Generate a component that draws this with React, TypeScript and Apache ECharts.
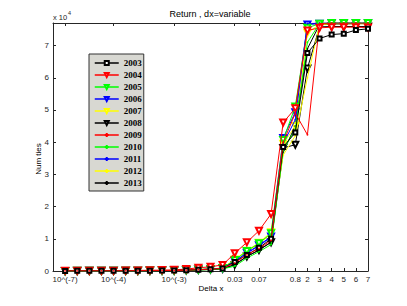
import React, { useEffect, useRef } from "react";
import * as echarts from "echarts";

const years = ["2003", "2004", "2005", "2006", "2007", "2008", "2009", "2010", "2011", "2012", "2013"];
const colors = ["#000000", "#ff0000", "#00ff00", "#0000ff", "#ffff00", "#000000", "#ff0000", "#00ff00", "#0000ff", "#ffff00", "#000000"];

// x positions (category index along the Delta x axis)
const xPositions = [1, 2, 3, 4, 5, 6, 7, 8, 9, 10, 11, 12, 13, 14, 15, 16, 17, 18, 19, 20, 21, 22, 23, 24, 25, 26];

const s2003 = [30, 40, 50, 60, 70, 80, 90, 110, 130, 150, 250, 400, 550, 800, 2800, 5000, 7200, 10000, 38500, 43000, 67700, 72200, 73400, 73700, 74800, 75200];
const s2004 = [40, 50, 60, 80, 100, 130, 170, 220, 280, 350, 600, 1000, 1300, 1900, 5500, 8900, 12500, 17700, 46100, 50500, 74700, 75500, 75700, 75700, 75700, 75600];
const s2005 = [30, 40, 50, 60, 70, 80, 100, 120, 140, 170, 280, 450, 600, 900, 3400, 6200, 8600, 11700, 40700, 51100, 75500, 76800, 77000, 77000, 77000, 77000];
const s2006 = [30, 40, 50, 60, 70, 80, 100, 120, 140, 160, 270, 430, 580, 850, 3000, 5700, 8000, 10700, 41300, 49300, 76500, 76800, 77000, 77000, 77000, 77000];
const s2007 = [30, 40, 50, 60, 70, 80, 100, 120, 140, 170, 290, 460, 620, 950, 3600, 6300, 8800, 12000, 39500, 45000, 74000, 76500, 76800, 76800, 76800, 76800];
const s2008 = [20, 30, 40, 50, 60, 70, 80, 100, 120, 130, 220, 350, 480, 700, 1900, 4500, 6500, 8900, 38200, 39200, 62900, 75800, 75900, 75900, 75900, 75900];
const s2009 = [30, 40, 50, 60, 70, 80, 100, 120, 140, 160, 260, 420, 560, 820, 2500, 5000, 7000, 9500, 40000, 49000, 42300, 76800, 77000, 77000, 77000, 77000];
const s2010 = [20, 30, 40, 50, 60, 70, 80, 100, 110, 120, 200, 320, 450, 650, 1500, 4000, 6000, 8200, 37500, 44000, 71000, 76800, 77000, 77000, 77000, 77000];
const s2011 = [30, 40, 50, 60, 70, 80, 100, 120, 140, 160, 270, 430, 580, 850, 3000, 5500, 7800, 10500, 39500, 47000, 76800, 77000, 77000, 77000, 77000, 77000];
const s2012 = [30, 40, 50, 60, 70, 80, 100, 120, 140, 170, 280, 450, 600, 920, 3500, 6000, 8500, 11500, 36000, 42000, 60000, 76500, 76800, 76800, 76800, 76800];
const s2013 = [20, 30, 40, 50, 60, 70, 80, 100, 120, 130, 220, 350, 480, 700, 2000, 4500, 6500, 9000, 37000, 45000, 69000, 76500, 76700, 76700, 76800, 76800];

const seriesValues = [s2003, s2004, s2005, s2006, s2007, s2008, s2009, s2010, s2011, s2012, s2013];

const xTickPositions = [1, 5, 10, 15, 17, 20, 21, 22, 23, 24, 25, 26];
const xTickLabels = ["10^(-7)", "10^(-4)", "10^(-3)", "0.03", "0.07", "0.8", "2", "3", "4", "5", "6", "7"];
const yTicks = [0, 10000, 20000, 30000, 40000, 50000, 60000, 70000];

const AX = "#262626";
const SANS = "Liberation Sans, Arial, sans-serif";
const LEGEND_BG = "#d8d8d2";

function buildSeries() {
  return years.map((y, i) => {
    const c = colors[i];
    const data = seriesValues[i].map((v, k) => [xPositions[k], v]);
    const base: any = {
      name: y,
      type: "line",
      data,
      xAxisIndex: 0,
      yAxisIndex: 0,
      lineStyle: { color: c, width: 1 },
      showAllSymbol: true,
      z: 10 - (i % 6),
    };
    if (i === 0) {
      base.symbol = "emptyRect";
      base.symbolSize = 4;
      base.itemStyle = { color: c, borderColor: c, borderWidth: 0.8 };
    } else if (i < 6) {
      base.symbol = "emptyTriangle";
      base.symbolRotate = 180;
      base.symbolSize = 6;
      base.itemStyle = { color: c, borderColor: c, borderWidth: 0.8 };
    } else {
      base.symbol = "path://M0,5L10,5M5,0L5,10";
      base.symbolSize = 2;
      base.itemStyle = { color: c, borderColor: c, borderWidth: 0.8 };
    }
    return base;
  });
}

export default function App() {
  const ref = useRef<HTMLDivElement>(null);
  useEffect(() => {
    const chart = echarts.init(ref.current!, null, { renderer: "svg" });
    const axisCommon = {
      type: "value",
      axisLine: { show: true, onZero: false, lineStyle: { color: AX, width: 1 } },
      splitLine: { show: false },
    };
    chart.setOption({
      animation: false,
      backgroundColor: "#ffffff",
      grid: { left: 53, top: 23, width: 315, height: 248, containLabel: false },
      xAxis: [
        {
          ...axisCommon,
          position: "bottom",
          min: 0,
          max: 26,
          axisTick: { show: true, inside: true, length: 3, customValues: xTickPositions, lineStyle: { color: AX } },
          axisLabel: {
            show: true,
            customValues: xTickPositions,
            margin: 4,
            fontSize: 8,
            color: AX,
            fontFamily: SANS,
            formatter: (v: number) => {
              const idx = xTickPositions.indexOf(v);
              return idx >= 0 ? xTickLabels[idx] : "";
            },
          },
        },
        {
          ...axisCommon,
          position: "top",
          min: 0,
          max: 26,
          axisTick: { show: true, inside: true, length: 3, customValues: xTickPositions, lineStyle: { color: AX } },
          axisLabel: { show: false },
        },
      ],
      yAxis: [
        {
          ...axisCommon,
          position: "left",
          min: 0,
          max: 77000,
          axisTick: { show: true, inside: true, length: 3, customValues: yTicks, lineStyle: { color: AX } },
          axisLabel: {
            show: true,
            customValues: yTicks,
            margin: 4,
            fontSize: 8,
            color: AX,
            fontFamily: SANS,
            formatter: (v: number) => String(Math.round(v / 10000)),
          },
        },
        {
          ...axisCommon,
          position: "right",
          min: 0,
          max: 77000,
          axisTick: { show: true, inside: true, length: 3, customValues: yTicks, lineStyle: { color: AX } },
          axisLabel: { show: false },
        },
      ],
      legend: {
        orient: "vertical",
        left: 89,
        top: 54,
        itemWidth: 24,
        itemHeight: 5,
        itemGap: 0,
        padding: [3, 2, 2, 5],
        backgroundColor: LEGEND_BG,
        borderColor: "#333333",
        borderWidth: 1,
        borderRadius: 0,
        data: years,
        lineStyle: { width: 1.5 },
        textStyle: {
          fontFamily: "Liberation Serif, Times New Roman, serif",
          fontWeight: "bold",
          fontSize: 9,
          color: "#000",
          lineHeight: 12,
        },
      },
      graphic: [
        {
          type: "text",
          x: 210,
          y: 14,
          style: { text: "Return , dx=variable", fontSize: 9, fontFamily: SANS, fill: "#000", textAlign: "center", textVerticalAlign: "middle" },
        },
        {
          type: "text",
          x: 211,
          y: 288,
          style: { text: "Delta x", fontSize: 8, fontFamily: SANS, fill: "#000", textAlign: "center", textVerticalAlign: "middle" },
        },
        {
          type: "text",
          x: 38,
          y: 159,
          rotation: Math.PI / 2,
          style: { text: "Num ties", fontSize: 8, fontFamily: SANS, fill: "#000", textAlign: "center", textVerticalAlign: "middle" },
        },
        {
          type: "text",
          x: 53,
          y: 17,
          style: { text: "x 10", fontSize: 7.5, fontFamily: SANS, fill: AX, textAlign: "left", textVerticalAlign: "middle" },
        },
        {
          type: "text",
          x: 68,
          y: 13,
          style: { text: "4", fontSize: 5.5, fontFamily: SANS, fill: AX, textAlign: "left", textVerticalAlign: "middle" },
        },
      ],
      series: buildSeries(),
    });
    return () => chart.dispose();
  }, []);
  return <div ref={ref} style={{ position: "fixed", left: 0, top: 0, width: 407, height: 306, background: "#fff" }} />;
}
